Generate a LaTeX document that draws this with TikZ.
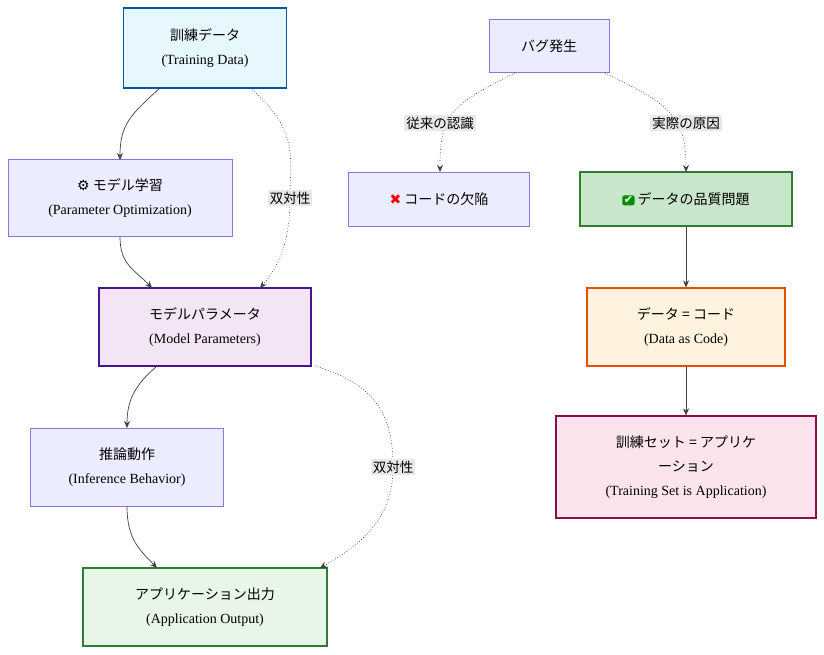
\documentclass[tikz,border=0pt]{standalone}
\usepackage{fontspec}
\setmainfont{Liberation Serif}
\newfontfamily\jp{Noto Sans CJK JP}
\newfontfamily\sym{DejaVu Sans}
\usetikzlibrary{arrows.meta}
\definecolor{pb}{HTML}{ECECFF}\definecolor{pbd}{HTML}{9370DB}
\newcommand{\crossmk}{{\sym\color{red}✖}}
\newcommand{\checkmk}{\tikz[baseline=-4pt,x=1pt,y=1pt]\node[draw=none,minimum width=0pt,minimum height=0pt,fill=green!55!black,rounded corners=2pt,inner sep=1.5pt,text=white,font=\sym\fontsize{11}{11}\selectfont]{✔};}
\begin{document}
\begin{tikzpicture}[x=1pt,y=-1pt,
 box/.style={draw=pbd,fill=pb,line width=0.8pt,align=center,inner sep=0pt,font=\fontsize{14}{24}\selectfont},
 e/.style={-{Stealth[length=7pt,width=6pt]},draw=black!75,line width=0.7pt},
 d/.style={e,dotted},
 lab/.style={fill=black!9,font=\jp\fontsize{13.5}{16}\selectfont,inner sep=2pt}]
\useasboundingbox (0,0) rectangle (824,654);
\node[box,minimum width=163,minimum height=80,fill=cyan!10,draw={rgb,255:red,1;green,87;blue,155},line width=1.2pt] (tr) at (205,48) {{\jp 訓練データ}\\(Training Data)};
\node[box,minimum width=224,minimum height=77] (op) at (120,198) {{\sym ⚙}{\jp\ モデル学習}\\(Parameter Optimization)};
\node[box,minimum width=212,minimum height=78,fill={rgb,255:red,243;green,229;blue,245},draw={rgb,255:red,74;green,20;blue,140},line width=1.3pt] (pa) at (205,327) {{\jp モデルパラメータ}\\(Model Parameters)};
\node[box,minimum width=193,minimum height=78] (in) at (127,467) {{\jp 推論動作}\\(Inference Behavior)};
\node[box,minimum width=244,minimum height=78,fill={rgb,255:red,232;green,245;blue,233},draw={rgb,255:red,46;green,125;blue,50},line width=1.2pt] (ou) at (205,607) {{\jp アプリケーション出力}\\(Application Output)};
\node[box,minimum width=120,minimum height=53] (bug) at (549,46) {\jp バグ発生};
\node[box,minimum width=181,minimum height=54] (cd) at (439,199) {\crossmk{\jp\ コードの欠陥}};
\node[box,minimum width=212,minimum height=54,fill={rgb,255:red,200;green,230;blue,201},draw={rgb,255:red,46;green,125;blue,50},line width=1.2pt] (dq) at (686,199) {\checkmk{\jp\ データの品質問題}};
\node[box,minimum width=198,minimum height=78,fill={rgb,255:red,255;green,243;blue,224},draw={rgb,255:red,230;green,81;blue,0},line width=1.2pt] (dac) at (686,327) {{\jp データ = コード}\\(Data as Code)};
\node[box,minimum width=260,minimum height=102,fill={rgb,255:red,252;green,228;blue,236},draw={rgb,255:red,136;green,14;blue,79},line width=1.2pt] (ts) at (686,467) {{\jp 訓練セット = アプリケ}\\{\jp ーション}\\(Training Set is Application)};
\coordinate (a1) at (160,88);\coordinate (a2) at (120,160);
\draw[e] (a1) .. controls (130,115) and (120,125) .. (a2);
\draw[e] (120,237) .. controls (120,265) and (135,270) .. (152,288);
\draw[d] (250,88) .. controls (300,130) and (290,160) .. (290,198) .. controls (290,240) and (280,265) .. (260,288);
\node[lab] (l1) at (290,198) {双対性};
\draw[e] (157,366) .. controls (135,385) and (127,400) .. (127,428);
\draw[e] (127,506) .. controls (127,540) and (140,550) .. (157,568);
\draw[d] (315,366) .. controls (380,385) and (393,420) .. (393,467) .. controls (393,520) and (360,545) .. (320,568);
\node[lab] (l2) at (393,467) {双対性};
\draw[d] (515,73) .. controls (450,105) and (440,115) .. (440,172);
\node[lab] (l3) at (440,123) {従来の認識};
\draw[d] (605,73) .. controls (670,105) and (686,115) .. (686,172);
\node[lab] (l4) at (686,123) {実際の原因};
\draw[e] (dq) -- (dac);
\draw[e] (dac) -- (ts);
\end{tikzpicture}
\end{document}
